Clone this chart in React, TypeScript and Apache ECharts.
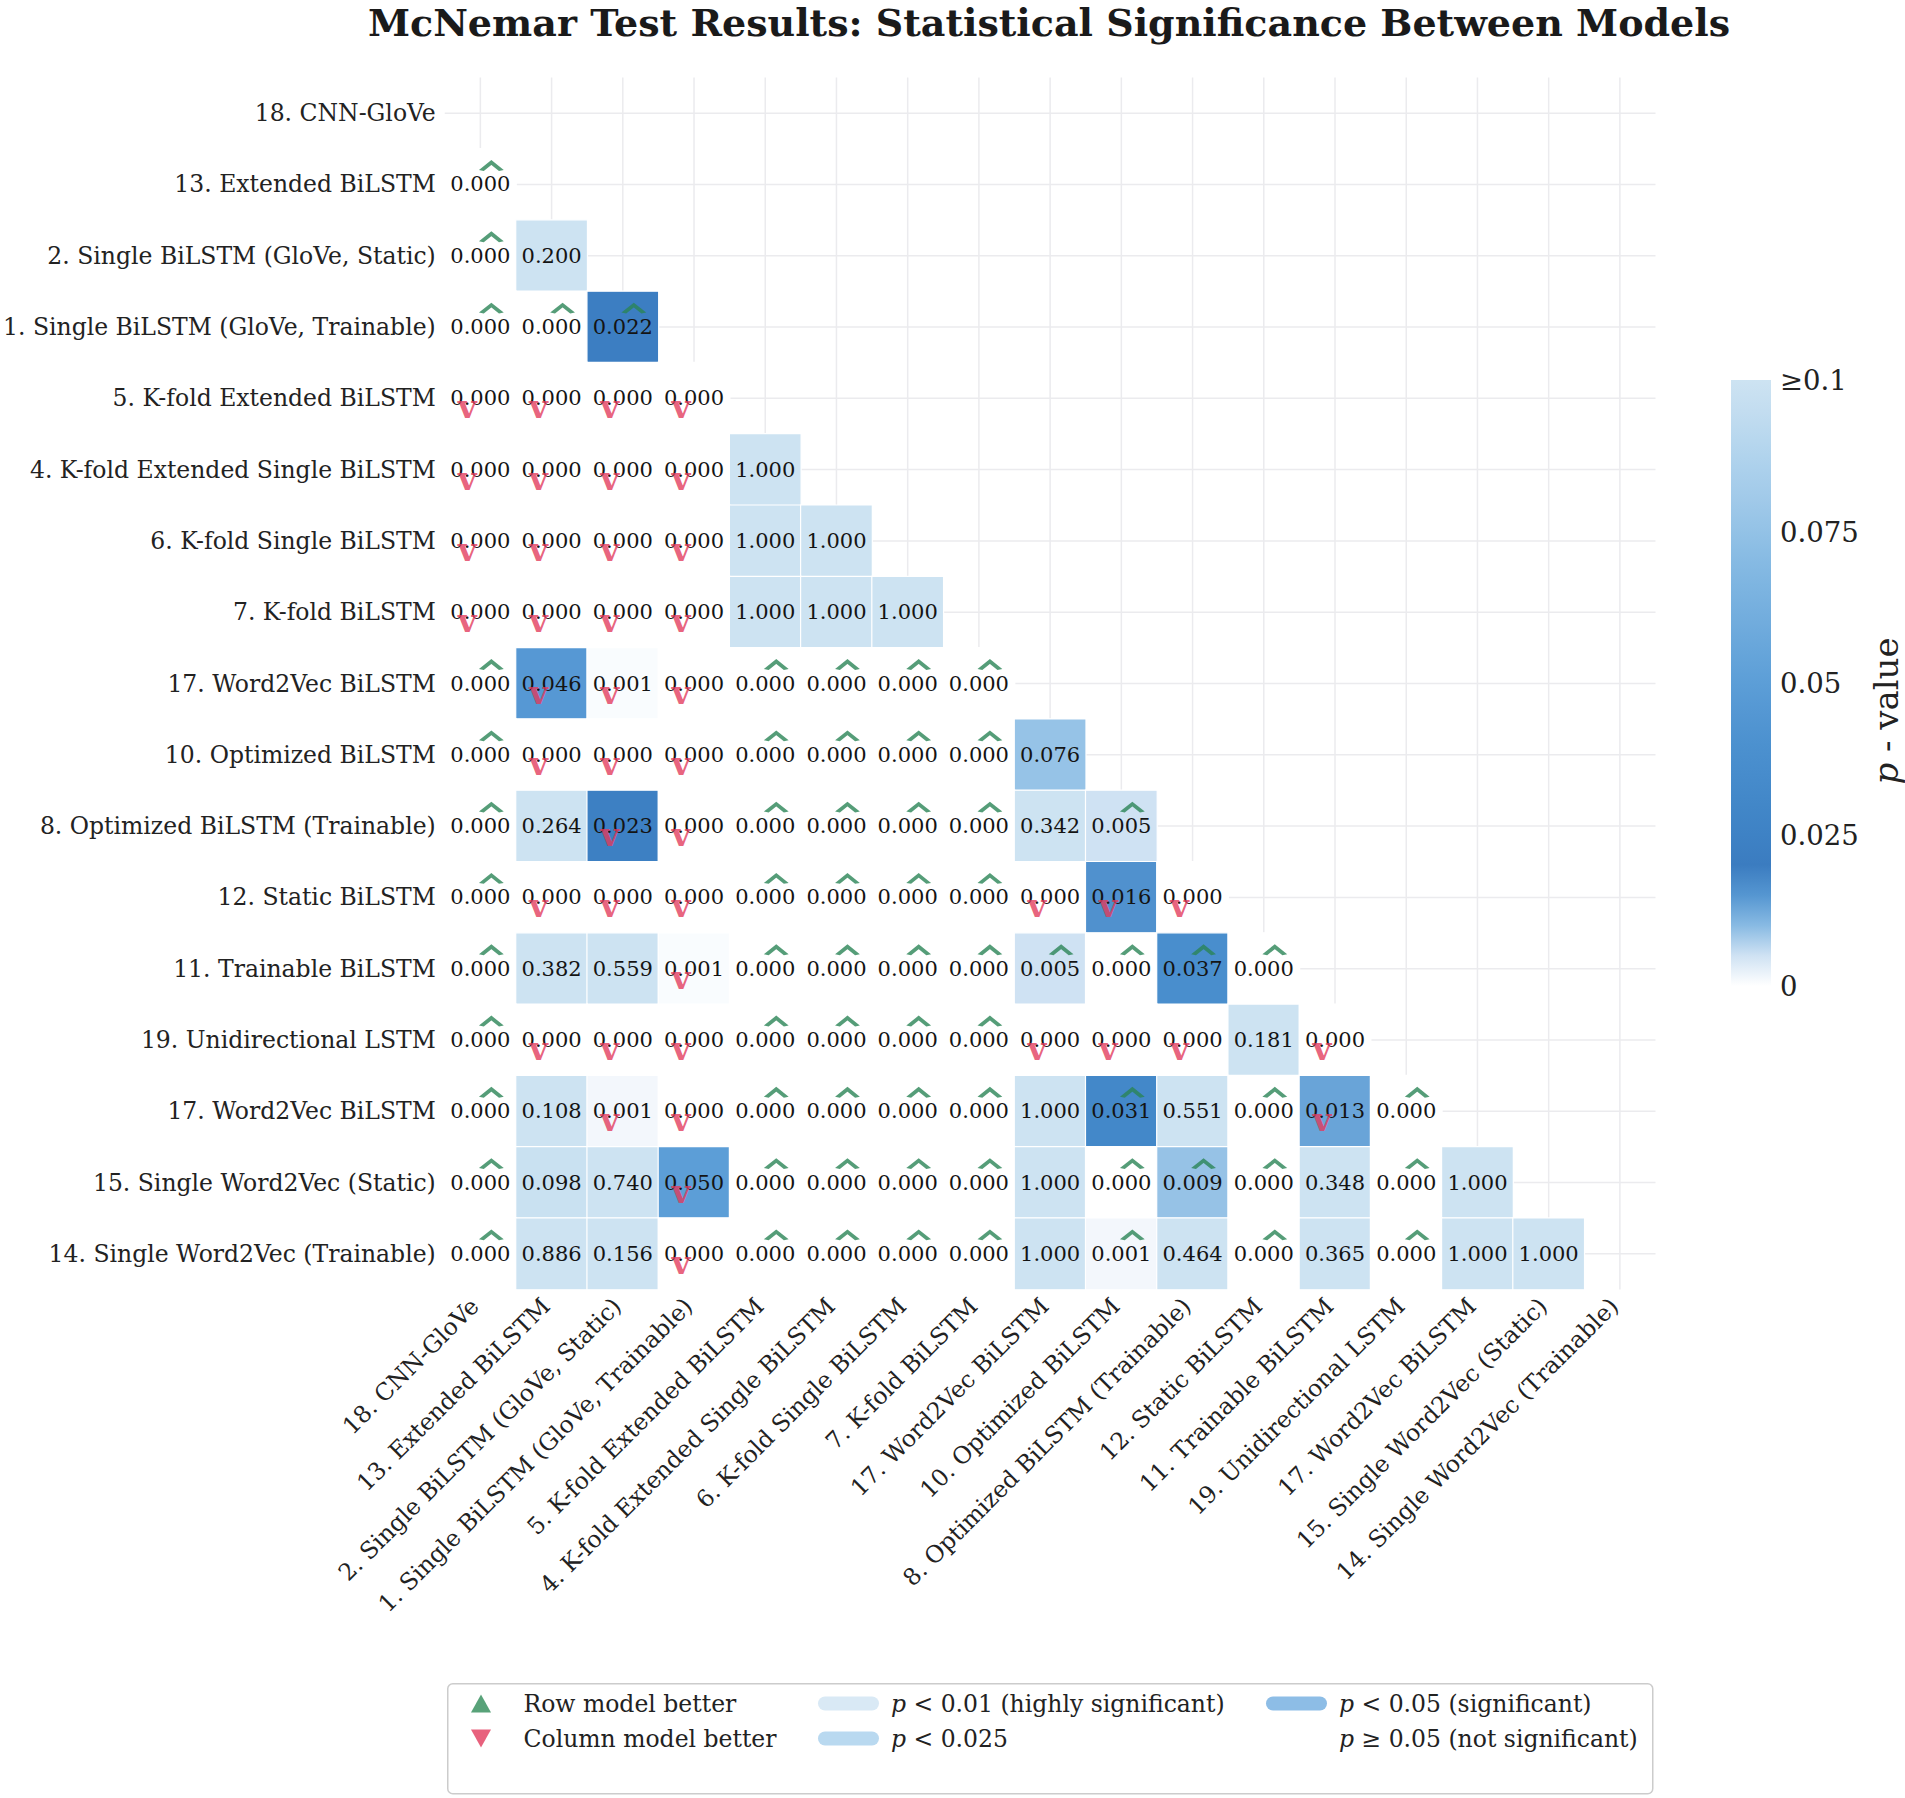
import React, { useEffect, useRef } from 'react';
import * as echarts from 'echarts';

// ---------- data ----------
const models = [
  '18. CNN-GloVe',
  '13. Extended BiLSTM',
  '2. Single BiLSTM (GloVe, Static)',
  '1. Single BiLSTM (GloVe, Trainable)',
  '5. K-fold Extended BiLSTM',
  '4. K-fold Extended Single BiLSTM',
  '6. K-fold Single BiLSTM',
  '7. K-fold BiLSTM',
  '17. Word2Vec BiLSTM',
  '10. Optimized BiLSTM',
  '8. Optimized BiLSTM (Trainable)',
  '12. Static BiLSTM',
  '11. Trainable BiLSTM',
  '19. Unidirectional LSTM',
  '17. Word2Vec BiLSTM',
  '15. Single Word2Vec (Static)',
  '14. Single Word2Vec (Trainable)',
];

// lower triangle: row i holds p-values against columns 0..i-1
const pValues: number[][] = [
  [],
  [0.0],
  [0.0, 0.2],
  [0.0, 0.0, 0.022],
  [0.0, 0.0, 0.0, 0.0],
  [0.0, 0.0, 0.0, 0.0, 1.0],
  [0.0, 0.0, 0.0, 0.0, 1.0, 1.0],
  [0.0, 0.0, 0.0, 0.0, 1.0, 1.0, 1.0],
  [0.0, 0.046, 0.0006, 0.0, 0.0, 0.0, 0.0, 0.0],
  [0.0, 0.0, 0.0, 0.0, 0.0, 0.0, 0.0, 0.0, 0.076],
  [0.0, 0.264, 0.023, 0.0, 0.0, 0.0, 0.0, 0.0, 0.342, 0.005],
  [0.0, 0.0, 0.0, 0.0, 0.0, 0.0, 0.0, 0.0, 0.0, 0.016, 0.0],
  [0.0, 0.382, 0.559, 0.0006, 0.0, 0.0, 0.0, 0.0, 0.005, 0.0, 0.037, 0.0],
  [0.0, 0.0, 0.0, 0.0, 0.0, 0.0, 0.0, 0.0, 0.0, 0.0, 0.0, 0.181, 0.0],
  [0.0, 0.108, 0.0013, 0.0, 0.0, 0.0, 0.0, 0.0, 1.0, 0.031, 0.551, 0.0, 0.013, 0.0],
  [0.0, 0.098, 0.74, 0.05, 0.0, 0.0, 0.0, 0.0, 1.0, 0.0, 0.009, 0.0, 0.348, 0.0, 1.0],
  [0.0, 0.886, 0.156, 0.0, 0.0, 0.0, 0.0, 0.0, 1.0, 0.0013, 0.464, 0.0, 0.365, 0.0, 1.0, 1.0],
];

// which model is better: u = row model better, d = column model better, . = none
const betterDir: string[] = [
  '',
  'u',
  'u.',
  'uuu',
  'dddd',
  'dddd.',
  'dddd..',
  'dddd...',
  'uddduuuu',
  'uddduuuu.',
  'u.dduuuu.u',
  'uddduuuuddd',
  'u..duuuuuuuu',
  'uddduuuuddd.d',
  'u.dduuuu.u.udu',
  'u..duuuu.uuu.u.',
  'u..duuuu.u.u.u..',
];

// colour ramp for p in [0, 0.1], evenly spaced every 0.005
const colorStops = [
  '#ffffff', '#cfe2f3', '#88bae3', '#5596d1', '#3b7cc0', '#3e82c5', '#4287c8',
  '#478ccc', '#4c91cf', '#5497d3', '#5c9ed7', '#66a5da', '#71acdd', '#7bb3e0',
  '#86bae3', '#93c2e6', '#a0c9e9', '#abd0ec', '#b7d7ee', '#c3ddf0', '#cde3f2',
];

const legendItems = [
  'Row model better',
  'Column model better',
  'p < 0.01 (highly significant)',
  'p < 0.025',
  'p < 0.05 (significant)',
  'p \u2265 0.05 (not significant)',
];
const legendColors = ['#2e8b57', '#e23a5c', '#cfe3f2', '#a8cfec', '#70ade0', 'rgba(0,0,0,0)'];

// ---------- derived ----------
const heatData: number[][] = [];
const rowMarks: number[][] = [];
const colMarks: number[][] = [];
pValues.forEach((row, i) => {
  row.forEach((p, j) => {
    heatData.push([j, i, p]);
    const d = betterDir[i][j];
    if (d === 'u') rowMarks.push([j, i]);
    if (d === 'd') colMarks.push([j, i]);
  });
});

const FONT = 'DejaVu Serif';
const TXT = '#222222';

const GRID_LEFT = 443.5;
const GRID_TOP = 77.5;
const GRID_SIZE = 1212;

const pillPath = 'path://M7,0 L54,0 A7,7 0 0 1 54,14 L7,14 A7,7 0 0 1 7,0 Z';
const legendIcons = [
  'path://M10,0 L20,18 L0,18 Z',
  'path://M0,0 L20,0 L10,18 Z',
  pillPath,
  pillPath,
  pillPath,
  'none',
];

const LEG_FS = 23.5;
const richItalic = {
  i: { fontStyle: 'italic', fontFamily: FONT, fontSize: LEG_FS, color: TXT },
};
const legendFormatter = (name: string) =>
  name.startsWith('p ') ? '{i|p}' + name.slice(1) : name;

function makeLegend(idx: number[], left: number, itemWidth: number, textPad: number) {
  return {
    orient: 'vertical',
    left,
    top: 1691.5,
    padding: 0,
    itemWidth,
    itemHeight: 18,
    itemGap: 11,
    selectedMode: false,
    symbolKeepAspect: true,
    z: 6,
    data: idx.map((k) => ({ name: legendItems[k], icon: legendIcons[k] })),
    formatter: legendFormatter,
    textStyle: {
      fontFamily: FONT,
      fontSize: LEG_FS,
      color: TXT,
      padding: [0, 0, 0, textPad],
      rich: richItalic,
    },
  };
}

function buildOption(): any {
  const gradient = {
    type: 'linear',
    x: 0,
    y: 1,
    x2: 0,
    y2: 0,
    colorStops: colorStops.map((c, k) => ({ offset: k / (colorStops.length - 1), color: c })),
  };
  const catLabel = { fontFamily: FONT, fontSize: 23.5, color: TXT, interval: 0 };
  return {
    animation: false,
    backgroundColor: '#ffffff',
    title: {
      text: 'McNemar Test Results: Statistical Significance Between Models',
      left: 1049,
      top: 3,
      textAlign: 'center',
      padding: 0,
      textStyle: { fontFamily: FONT, fontWeight: 'bold', fontSize: 38, color: '#1a1a1a' },
    },
    grid: [
      { left: GRID_LEFT, top: GRID_TOP, width: GRID_SIZE, height: GRID_SIZE, containLabel: false },
      {
        left: 1731,
        top: 380,
        width: 40,
        height: 606,
        show: true,
        borderWidth: 0,
        backgroundColor: gradient,
      },
    ],
    xAxis: [
      {
        type: 'category',
        gridIndex: 0,
        data: models,
        axisLine: { show: false },
        axisTick: { show: false },
        splitLine: { show: false },
        axisLabel: { ...catLabel, rotate: 45, margin: 7, padding: [0, 8, 0, 0] },
      },
      { type: 'value', gridIndex: 1, show: false, min: 0, max: 1 },
    ],
    yAxis: [
      {
        type: 'category',
        gridIndex: 0,
        data: models,
        inverse: true,
        axisLine: { show: false },
        axisTick: { show: false },
        splitLine: { show: false },
        axisLabel: { ...catLabel, margin: 9 },
      },
      {
        type: 'value',
        gridIndex: 1,
        position: 'right',
        min: 0,
        max: 0.1,
        interval: 0.025,
        axisLine: { show: false },
        axisTick: { show: false },
        splitLine: { show: false },
        axisLabel: {
          fontFamily: FONT,
          fontSize: 27.5,
          color: TXT,
          margin: 9,
          formatter: (v: number) => (v >= 0.1 - 1e-9 ? '\u22650.1' : String(+v.toFixed(3))),
        },
        name: '{i|p} - value',
        nameLocation: 'middle',
        nameRotate: 90,
        nameGap: 98,
        nameTextStyle: {
          fontFamily: FONT,
          fontSize: 34,
          color: TXT,
          padding: [0, 56, 0, 0],
          rich: { i: { fontStyle: 'italic', fontFamily: FONT, fontSize: 34, color: TXT } },
        },
      },
    ],
    visualMap: {
      type: 'continuous',
      show: false,
      min: 0,
      max: 0.1,
      dimension: 2,
      seriesIndex: 1,
      inRange: { color: colorStops },
    },
    legend: [
      makeLegend([0, 1], 471, 41, 17),
      makeLegend([2, 3], 818, 61, 7),
      makeLegend([4, 5], 1266, 61, 7),
    ],
    graphic: [
      {
        type: 'rect',
        left: 447,
        top: 1683,
        z: -1,
        shape: { width: 1205, height: 110, r: 5 },
        style: { fill: '#ffffff', stroke: '#cccccc', lineWidth: 1.5 },
        silent: true,
      },
    ],
    series: [
      {
        type: 'custom',
        name: 'grid-lines',
        xAxisIndex: 0,
        yAxisIndex: 0,
        z: 0,
        silent: true,
        data: models.map((_, k) => [k, k]),
        renderItem: (params: any, api: any) => {
          const cs = params.coordSys;
          const pt = api.coord([api.value(0), api.value(1)]);
          const st = { stroke: '#ebebee', lineWidth: 1.5 };
          return {
            type: 'group',
            children: [
              { type: 'line', shape: { x1: pt[0], y1: cs.y, x2: pt[0], y2: cs.y + cs.height }, style: st },
              { type: 'line', shape: { x1: cs.x, y1: pt[1], x2: cs.x + cs.width, y2: pt[1] }, style: st },
            ],
          };
        },
      },
      {
        type: 'heatmap',
        name: 'p-value',
        xAxisIndex: 0,
        yAxisIndex: 0,
        z: 2,
        data: heatData,
        itemStyle: { borderColor: '#ffffff', borderWidth: 1.2 },
        emphasis: { disabled: true },
        label: {
          show: true,
          fontFamily: FONT,
          fontSize: 21,
          color: '#141414',
          formatter: (p: any) => Number(p.value[2]).toFixed(3),
        },
      },
      {
        type: 'scatter',
        name: 'row-better-marks',
        xAxisIndex: 0,
        yAxisIndex: 0,
        z: 4,
        silent: true,
        symbol: 'path://M0,9 L10,0 L20,9',
        symbolSize: [20, 8],
        symbolOffset: [11, -18],
        itemStyle: { color: 'rgba(0,0,0,0)', borderColor: '#2a8556', borderWidth: 3.4 },
        data: rowMarks,
      },
      {
        type: 'scatter',
        name: 'col-better-marks',
        xAxisIndex: 0,
        yAxisIndex: 0,
        z: 5,
        silent: true,
        symbol: 'circle',
        symbolSize: 1,
        itemStyle: { color: 'rgba(0,0,0,0)' },
        label: {
          show: true,
          position: 'inside',
          formatter: 'v',
          offset: [-13, 9],
          fontFamily: FONT,
          fontWeight: 'bold',
          fontSize: 32,
          color: '#e23a5c',
        },
        data: colMarks,
      },
      ...legendItems.map((name, k) => ({
        type: 'scatter',
        name,
        xAxisIndex: 0,
        yAxisIndex: 0,
        data: [],
        itemStyle: { color: legendColors[k] },
      })),
    ],
  };
}

export default function App() {
  const ref = useRef<HTMLDivElement>(null);
  useEffect(() => {
    document.body.style.margin = '0';
    const chart = echarts.init(ref.current as HTMLDivElement, null, { renderer: 'svg' });
    chart.setOption(buildOption());
    return () => {
      chart.dispose();
    };
  }, []);
  return <div ref={ref} style={{ width: 1905, height: 1798 }} />;
}
